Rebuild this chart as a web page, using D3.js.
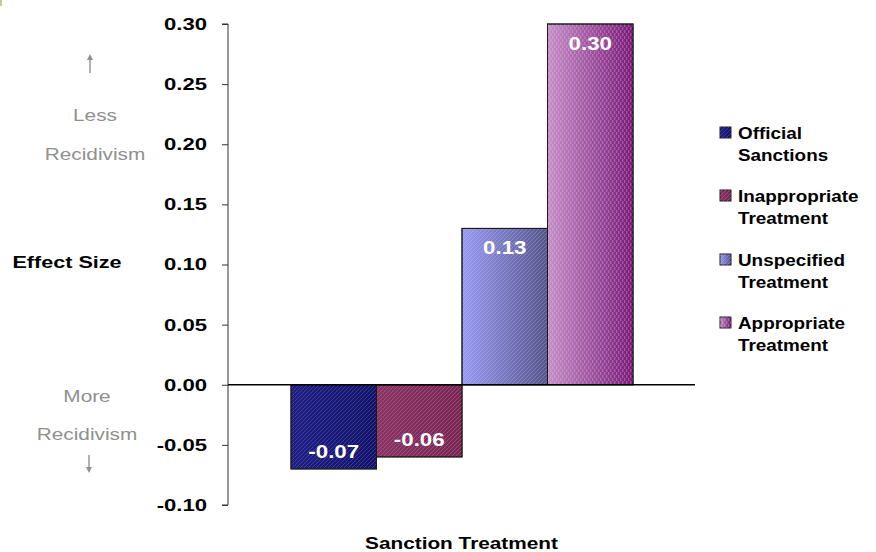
<!DOCTYPE html>
<html>
<head>
<meta charset="utf-8">
<script src="https://cdn.jsdelivr.net/npm/d3@7"></script>
<style>
  html, body { margin: 0; padding: 0; background: #fff; }
  svg { display: block; font-family: "Liberation Sans", Arial, sans-serif; }
</style>
</head>
<body>
<svg id="chart" width="876" height="552"></svg>
<script>
// Effect size of each sanction / treatment type on recidivism
const seriesNames = ["Official Sanctions", "Inappropriate Treatment", "Unspecified Treatment", "Appropriate Treatment"];
const legendLines = [["Official", "Sanctions"], ["Inappropriate", "Treatment"], ["Unspecified", "Treatment"], ["Appropriate", "Treatment"]];
const effectSizes = [-0.07, -0.06, 0.13, 0.30];
const valueLabels = ["-0.07", "-0.06", "0.13", "0.30"];
const yTicks = [-0.10, -0.05, 0.00, 0.05, 0.10, 0.15, 0.20, 0.25, 0.30];
const yTickLabels = ["-0.10", "-0.05", "0.00", "0.05", "0.10", "0.15", "0.20", "0.25", "0.30"];

const svg = d3.select("#chart");
const plot = { left: 228, right: 695, top: 24, bottom: 505 };

// the chart's lettering is drawn wide: a horizontal stretch applied per text
const WIDE = 1.3;
function placeText(sel, x, y, sx) {
  return sel.attr("transform", `translate(${x},${y}) scale(${sx},1)`);
}

const y = d3.scaleLinear().domain([-0.10, 0.30]).range([plot.bottom, plot.top]);
const x = d3.scaleBand().domain(seriesNames).range([291, 633]).padding(0);

// ---- fills: gradients with fine diagonal texture ----
const defs = svg.append("defs");
const fills = [
  { id: "f0", from: "#202080", to: "#131362", line: "#4444b8", lineOp: 0.75, kind: "diag" },
  { id: "f1", from: "#8a3464", to: "#762650", line: "#b06090", lineOp: 0.65, kind: "diag" },
  { id: "f2", from: "#9a9af2", to: "#55558a", line: "#c8c8ff", lineOp: 0.3, kind: "diag" },
  { id: "f3", from: "#c490c6", to: "#781878", line: "#f0c8f0", lineOp: 0.3, kind: "weave" }
];
fills.forEach(f => {
  const g = defs.append("linearGradient").attr("id", f.id + "g")
    .attr("x1", "0%").attr("x2", "100%").attr("y1", "0%").attr("y2", "0%");
  g.append("stop").attr("offset", "0%").attr("stop-color", f.from);
  g.append("stop").attr("offset", "100%").attr("stop-color", f.to);

  const p = defs.append("pattern").attr("id", f.id + "p")
    .attr("patternUnits", "userSpaceOnUse");
  if (f.kind === "diag") {
    p.attr("width", 4).attr("height", 4);
    p.append("path").attr("d", "M-1,1 L1,-1 M0,4 L4,0 M3,5 L5,3")
      .attr("stroke", f.line).attr("stroke-width", 1).attr("stroke-opacity", f.lineOp);
  } else {
    p.attr("width", 4).attr("height", 6);
    p.append("rect").attr("x", 0).attr("y", 0).attr("width", 1.4).attr("height", 3)
      .attr("fill", f.line).attr("fill-opacity", f.lineOp);
    p.append("rect").attr("x", 2).attr("y", 3).attr("width", 1.4).attr("height", 3)
      .attr("fill", f.line).attr("fill-opacity", f.lineOp);
  }
});

// ---- bars ----
const bars = svg.append("g").selectAll("g").data(effectSizes).join("g");
["g", "p"].forEach(layer => {
  bars.append("rect")
    .attr("x", (d, i) => x(seriesNames[i]))
    .attr("y", d => y(Math.max(0, d)))
    .attr("width", x.bandwidth())
    .attr("height", d => Math.abs(y(d) - y(0)))
    .attr("fill", (d, i) => `url(#${fills[i].id}${layer})`)
    .attr("stroke", "#1a1a1a").attr("stroke-width", 1);
});

// value labels inside the bar ends
bars.append("text")
  .attr("text-anchor", "middle")
  .attr("fill", "#ffffff")
  .attr("font-size", 18).attr("font-weight", "bold")
  .each(function (d, i) {
    placeText(d3.select(this), x(seriesNames[i]) + x.bandwidth() / 2,
      d >= 0 ? y(d) + 26 : y(d) - 11, 1.24);
  })
  .text((d, i) => valueLabels[i]);

// ---- axes ----
const yAxis = d3.axisLeft(y).tickValues(yTicks).tickSize(6).tickPadding(0)
  .tickFormat((d, i) => yTickLabels[i]);
const ya = svg.append("g").attr("transform", `translate(${plot.left},0)`).call(yAxis);
ya.select(".domain").attr("stroke", "#333").attr("d", `M-6,${plot.top}H0V${plot.bottom}H-6`);
ya.selectAll(".tick line").attr("stroke", "#333");
ya.selectAll(".tick text").attr("fill", "#000").attr("font-size", 17).attr("font-weight", "bold")
  .attr("font-family", "'Liberation Sans', Arial, sans-serif")
  .attr("x", 0)
  .attr("transform", `translate(-21,0) scale(${WIDE},1)`);

// zero baseline
svg.append("line")
  .attr("x1", plot.left).attr("x2", plot.right)
  .attr("y1", y(0)).attr("y2", y(0))
  .attr("stroke", "#000").attr("stroke-width", 1.5);

// ---- axis titles & annotations ----
placeText(svg.append("text"), 67, 268, 1.35).attr("text-anchor", "middle")
  .attr("font-size", 16).attr("font-weight", "bold").attr("fill", "#000").text("Effect Size");
placeText(svg.append("text"), (plot.left + plot.right) / 2, 549, WIDE).attr("text-anchor", "middle")
  .attr("font-size", 16).attr("font-weight", "bold").attr("fill", "#000").text("Sanction Treatment");

const grey = "#909090";
const note = svg.append("g").attr("fill", grey).attr("font-size", 16).attr("text-anchor", "middle");
placeText(note.append("text"), 95, 121, WIDE).text("Less");
placeText(note.append("text"), 95, 160, WIDE).text("Recidivism");
placeText(note.append("text"), 87, 402, WIDE).text("More");
placeText(note.append("text"), 87, 440, WIDE).text("Recidivism");

// arrows
svg.append("path").attr("d", "M90,73 V58").attr("stroke", grey).attr("stroke-width", 1.4);
svg.append("path").attr("d", "M87,60 L90,54 L93,60 Z").attr("fill", grey);
svg.append("path").attr("d", "M89,455 V469").attr("stroke", grey).attr("stroke-width", 1.4);
svg.append("path").attr("d", "M86,467 L89,473 L92,467 Z").attr("fill", grey);

// ---- legend ----
const legend = svg.append("g");
const legendY = [133, 196, 260, 323];
legendLines.forEach((lines, i) => {
  const gy = legendY[i];
  legend.append("rect").attr("x", 720).attr("y", gy - 6).attr("width", 11).attr("height", 11)
    .attr("fill", `url(#${fills[i].id}g)`).attr("stroke", "#222").attr("stroke-width", 1);
  legend.append("rect").attr("x", 720).attr("y", gy - 6).attr("width", 11).attr("height", 11)
    .attr("fill", `url(#${fills[i].id}p)`);
  lines.forEach((ln, k) => {
    placeText(legend.append("text"), 738, gy + 6 + k * 22, 1.18)
      .attr("font-size", 16).attr("font-weight", "bold").attr("fill", "#000").text(ln);
  });
});

// small corner mark
svg.append("rect").attr("x", 0).attr("y", 0).attr("width", 2).attr("height", 6).attr("fill", "#c9c98f");
</script>
</body>
</html>
